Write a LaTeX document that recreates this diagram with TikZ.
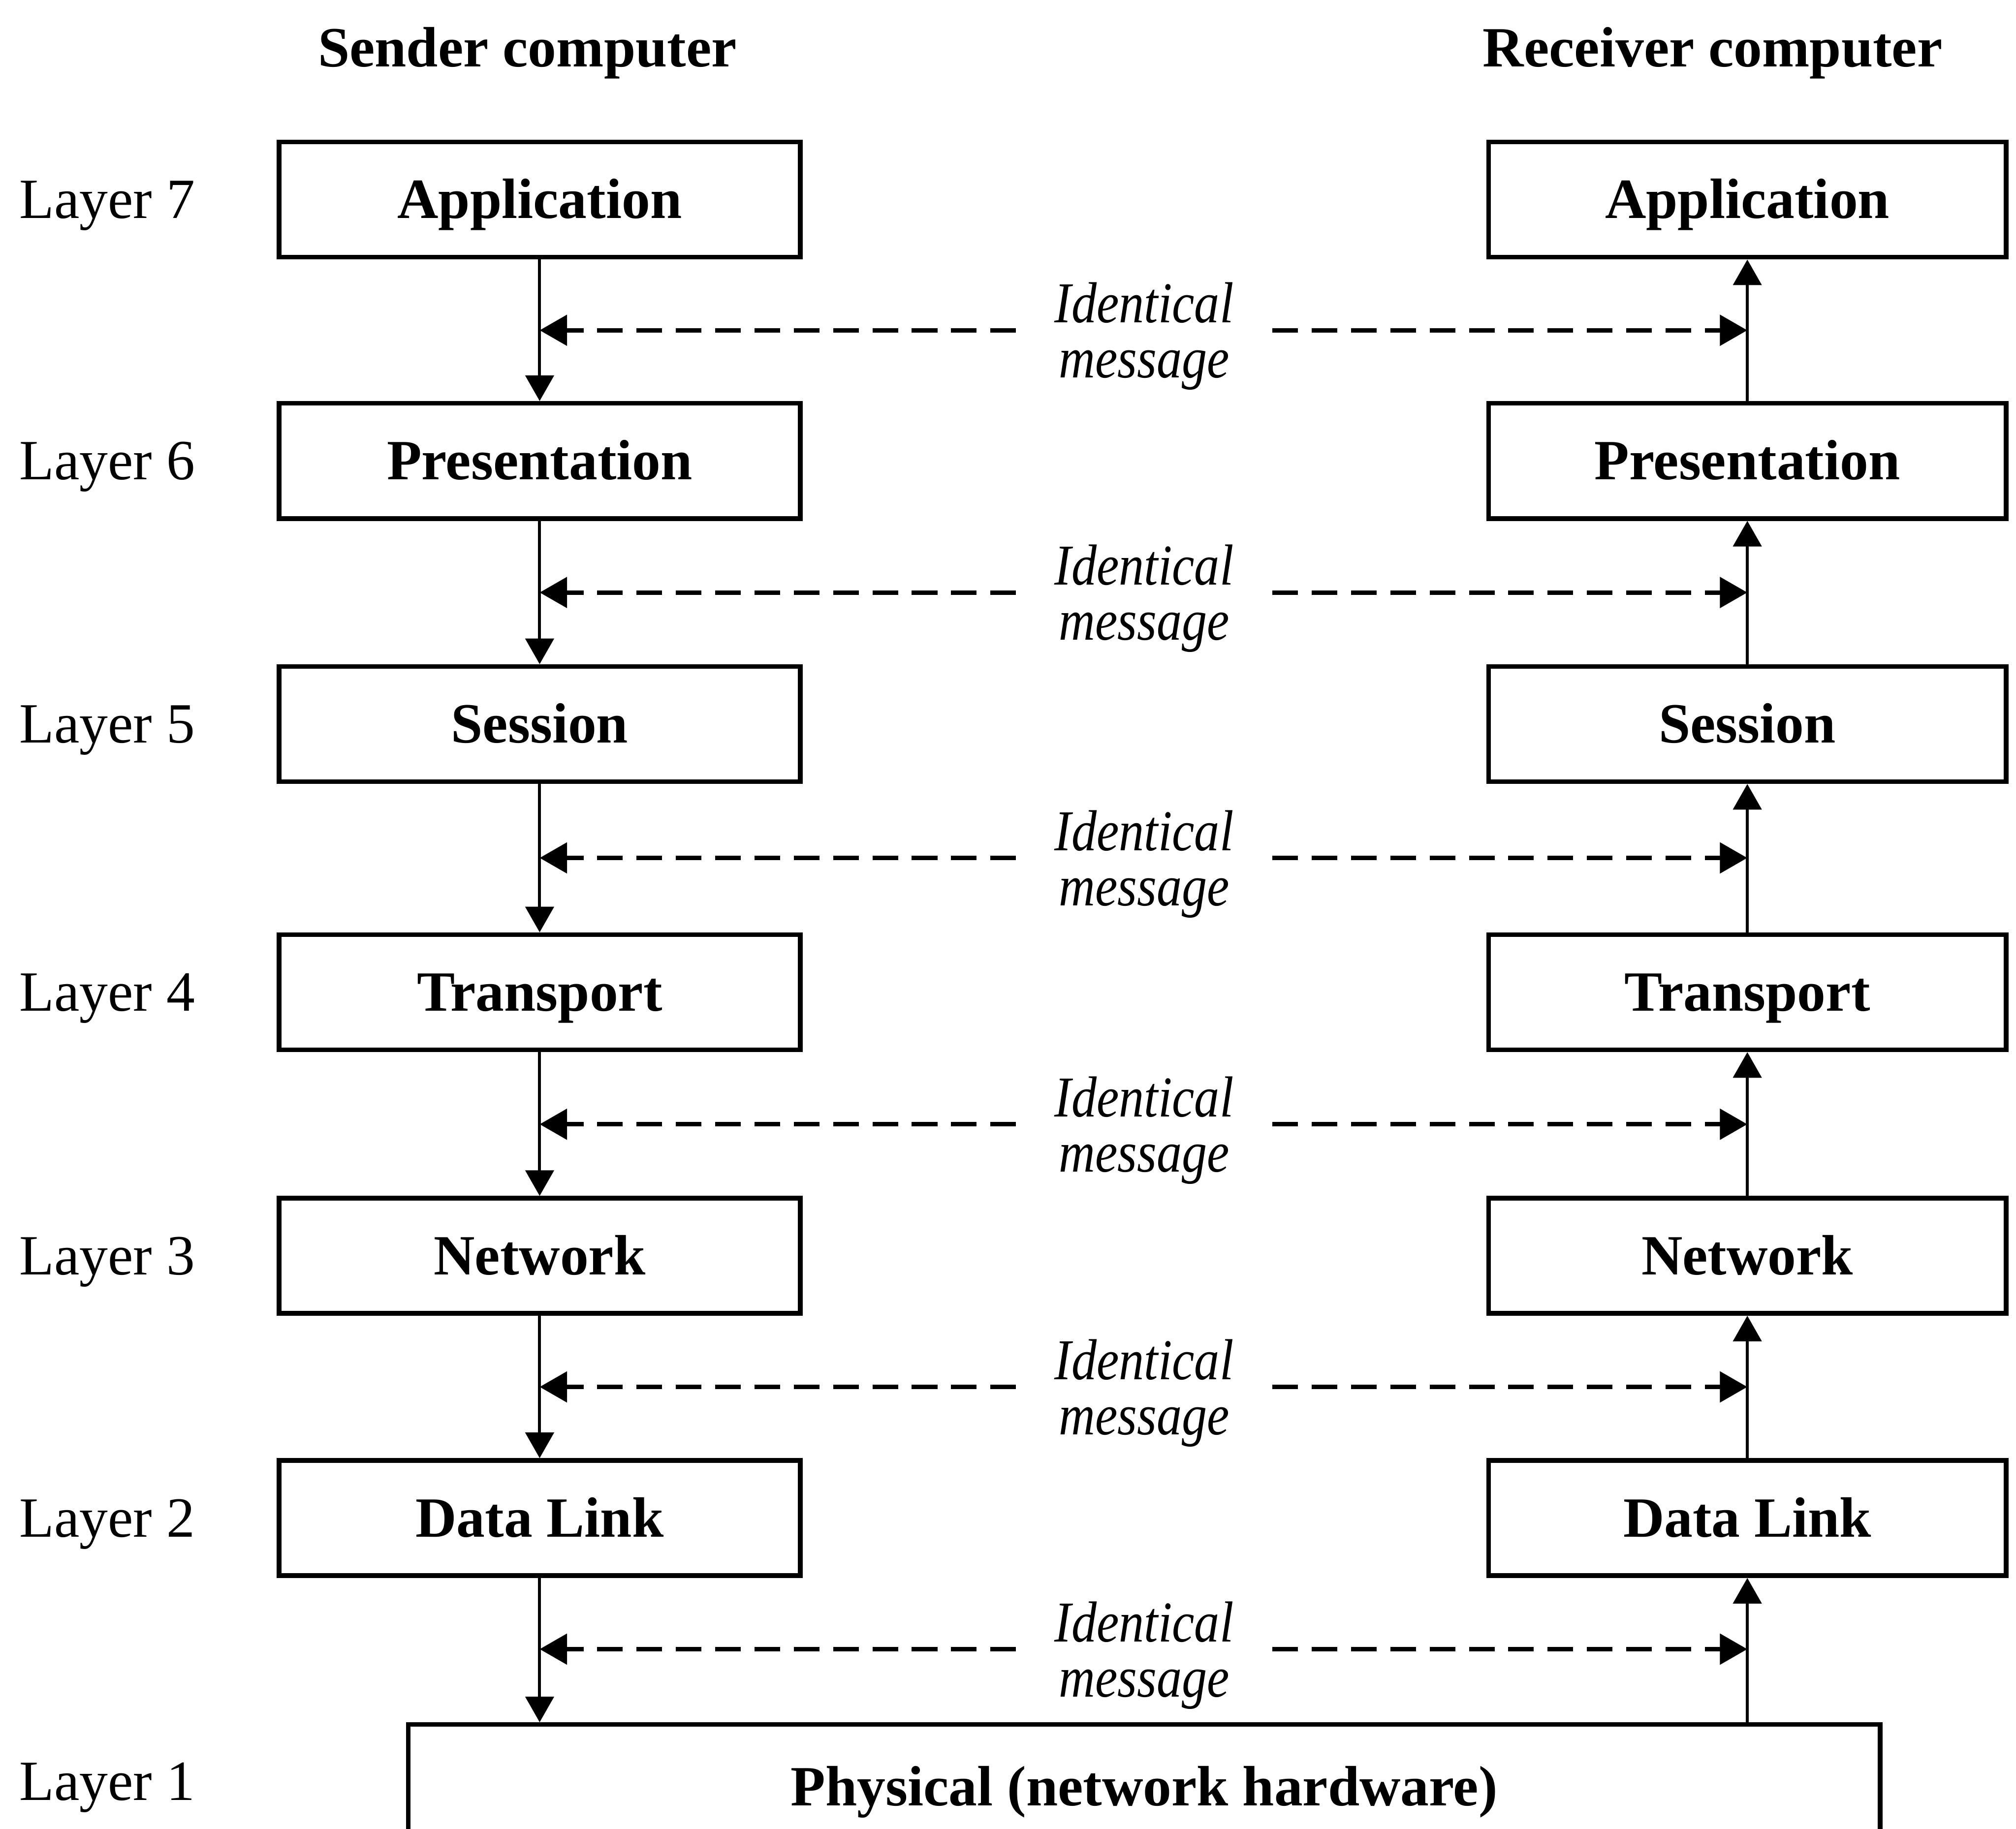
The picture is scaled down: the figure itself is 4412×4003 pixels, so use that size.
\documentclass[tikz,border=0pt]{standalone}
\usepackage{fontspec}
\setmainfont{Liberation Serif}
\newfontfamily\msgfont{Liberation Serif}[FakeStretch=0.87]
\usetikzlibrary{arrows.meta}
\begin{document}
\begin{tikzpicture}[x=0.01cm,y=-0.01cm,
  layerbox/.style={draw,line width=2.9pt,minimum height=2.52cm,inner sep=0pt,
    font=\fontsize{35.4}{40}\selectfont\bfseries,text height=23.3pt,text depth=0pt},
  leftbox/.style={layerbox,minimum width=11.40cm},
  rightbox/.style={layerbox,minimum width=11.32cm},
  layerlabel/.style={anchor=west,inner sep=0pt,font=\fontsize{35.4}{40}\selectfont,
    text height=23.4pt,text depth=0pt},
  title/.style={anchor=base,inner sep=0pt,font=\fontsize{35.4}{40}\selectfont\bfseries},
  msglabel/.style={anchor=base,inner xsep=0.84cm,inner ysep=0pt,align=center,
    font=\msgfont\itshape\fontsize{36}{34.3}\selectfont},
  flow/.style={line width=1.8pt,-{Triangle[length=0.56cm,width=0.62cm]}},
  peer/.style={line width=2.8pt,dash pattern=on 0.56cm off 0.3cm,
    -{Triangle[length=0.6cm,width=0.66cm]}}
]
\clip (0,0) rectangle (4412,4003);

% column titles
\node[title] (stitle) at (1154,146) {Sender computer};
\node[title] (rtitle) at (3748,146) {Receiver computer};

% layer numbers
\node[layerlabel] (l7) at (42,437)  {Layer 7};
\node[layerlabel] (l6) at (42,1009) {Layer 6};
\node[layerlabel] (l5) at (42,1585) {Layer 5};
\node[layerlabel] (l4) at (42,2172) {Layer 4};
\node[layerlabel] (l3) at (42,2749) {Layer 3};
\node[layerlabel] (l2) at (42,3323) {Layer 2};
\node[layerlabel] (l1) at (42,3900) {Layer 1};

% sender stack
\node[leftbox] (sapp)   at (1181,437)  {Application};
\node[leftbox] (spres)  at (1181,1009) {Presentation};
\node[leftbox] (ssess)  at (1181,1585) {Session};
\node[leftbox] (strans) at (1181,2172) {Transport};
\node[leftbox] (snet)   at (1181,2749) {Network};
\node[leftbox] (sdl)    at (1181,3323) {Data Link};

% receiver stack
\node[rightbox] (rapp)   at (3824,437)  {Application};
\node[rightbox] (rpres)  at (3824,1009) {Presentation};
\node[rightbox] (rsess)  at (3824,1585) {Session};
\node[rightbox] (rtrans) at (3824,2172) {Transport};
\node[rightbox] (rnet)   at (3824,2749) {Network};
\node[rightbox] (rdl)    at (3824,3323) {Data Link};

% shared physical layer
\node[draw,line width=2.9pt,anchor=north,minimum width=32.19cm,minimum height=2.72cm,
  inner sep=0pt,font=\fontsize{35.4}{40}\selectfont\bfseries,text height=23.3pt,text depth=0pt]
  (phys) at (2504,3770) {Physical (network hardware)};

% data flows down the sender, up the receiver
\draw[flow] (sapp) -- (spres);
\draw[flow] (spres) -- (ssess);
\draw[flow] (ssess) -- (strans);
\draw[flow] (strans) -- (snet);
\draw[flow] (snet) -- (sdl);
\draw[flow] (sdl) -- (sdl.south |- phys.north);

\draw[flow] (rpres) -- (rapp);
\draw[flow] (rsess) -- (rpres);
\draw[flow] (rtrans) -- (rsess);
\draw[flow] (rnet) -- (rtrans);
\draw[flow] (rdl) -- (rnet);
\draw[flow] (rdl.south |- phys.north) -- (rdl);

% peer-to-peer "identical message" links
\foreach \k/\y/\a/\b in {1/723/sapp/rapp, 2/1297/spres/rpres, 3/1878/ssess/rsess,
                         4/2461/strans/rtrans, 5/3036/snet/rnet, 6/3610/sdl/rdl}{
  \coordinate (row\k) at (2504,\y);
  \node[msglabel] (msg\k) at (2504,\y+104) {Identical\\message};
  \draw[peer] (msg\k.west |- row\k) -- (\a.south |- row\k);
  \draw[peer] (msg\k.east |- row\k) -- (\b.south |- row\k);
}
\end{tikzpicture}
\end{document}
